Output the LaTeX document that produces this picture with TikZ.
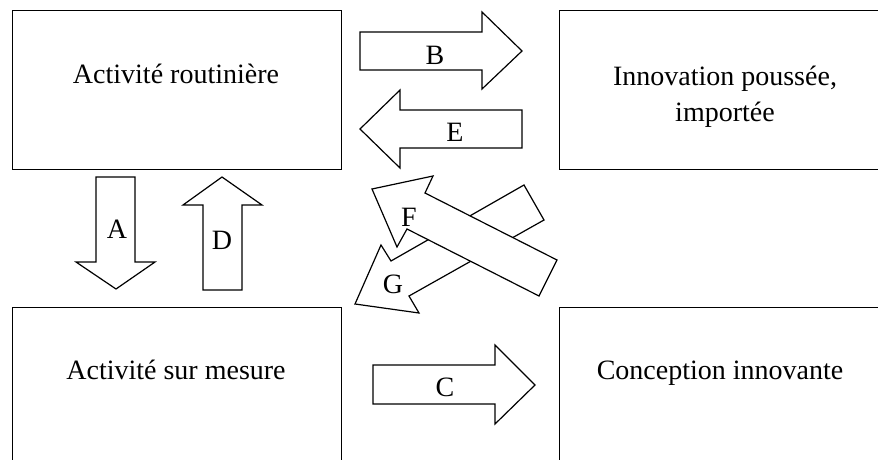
\documentclass[tikz,border=0pt]{standalone}
\usepackage{fontspec}
\setmainfont{Liberation Serif}
\begin{document}
\begin{tikzpicture}[x=1pt,y=-1pt,
  box/.style={draw,line width=1.3pt,inner sep=0pt,anchor=north west},
  blockarrow/.style={draw,line width=1.2pt,fill=white,line join=miter},
  txt/.style={font=\fontsize{28}{32}\selectfont,inner sep=0pt,anchor=base,align=center},
  lab/.style={font=\fontsize{28}{32}\selectfont,inner sep=0pt}]
\useasboundingbox (0,0) rectangle (878,460);
\clip (0,0) rectangle (878,460);
% boxes
\node[box,minimum width=329pt,minimum height=159pt] (routine) at (12,10) {};
\node[box,minimum width=335pt,minimum height=159pt] (innov) at (559,10) {};
\node[box,minimum width=329pt,minimum height=165pt] (mesure) at (12,307) {};
\node[box,minimum width=335pt,minimum height=165pt] (concep) at (559,307) {};
% texts
\node[txt] (t1) at (176,83) {Activité routinière};
\node[txt] (t2) at (725,85) {Innovation poussée,};
\node[txt] (t2b) at (725,121) {importée};
\node[txt] (t3) at (176,379) {Activité sur mesure};
\node[txt] (t4) at (720,379) {Conception innovante};
% block arrows
\draw[blockarrow] (360,32) -- (482,32) -- (482,12) -- (522,51) -- (482,89) -- (482,70) -- (360,70) -- cycle;
\draw[blockarrow] (522,110) -- (400,110) -- (400,90) -- (360,129) -- (400,168) -- (400,148) -- (522,148) -- cycle;
\draw[blockarrow] (373,365) -- (495,365) -- (495,345) -- (535,385) -- (495,424) -- (495,404) -- (373,404) -- cycle;
\draw[blockarrow] (96,177) -- (135,177) -- (135,262) -- (155,262) -- (116,289) -- (76,262) -- (96,262) -- cycle;
\draw[blockarrow] (203,290) -- (242,290) -- (242,205) -- (262,205) -- (222,177) -- (183,205) -- (203,205) -- cycle;
\draw[blockarrow] (524,185) -- (544,220) -- (409,296) -- (419,313) -- (355,304) -- (381,245) -- (391,261) -- cycle;
\draw[blockarrow] (372,189) -- (433,176) -- (425,193) -- (557,260) -- (539,296) -- (407,229) -- (397,247) -- cycle;
% labels
\node[lab] (lB) at (435,55) {B};
\node[lab] (lE) at (455,132) {E};
\node[lab] (lC) at (445,387) {C};
\node[lab] (lA) at (117,229) {A};
\node[lab] (lD) at (222,240) {D};
\node[lab] (lF) at (409,217) {F};
\node[lab] (lG) at (393,284) {G};
\end{tikzpicture}
\end{document}
